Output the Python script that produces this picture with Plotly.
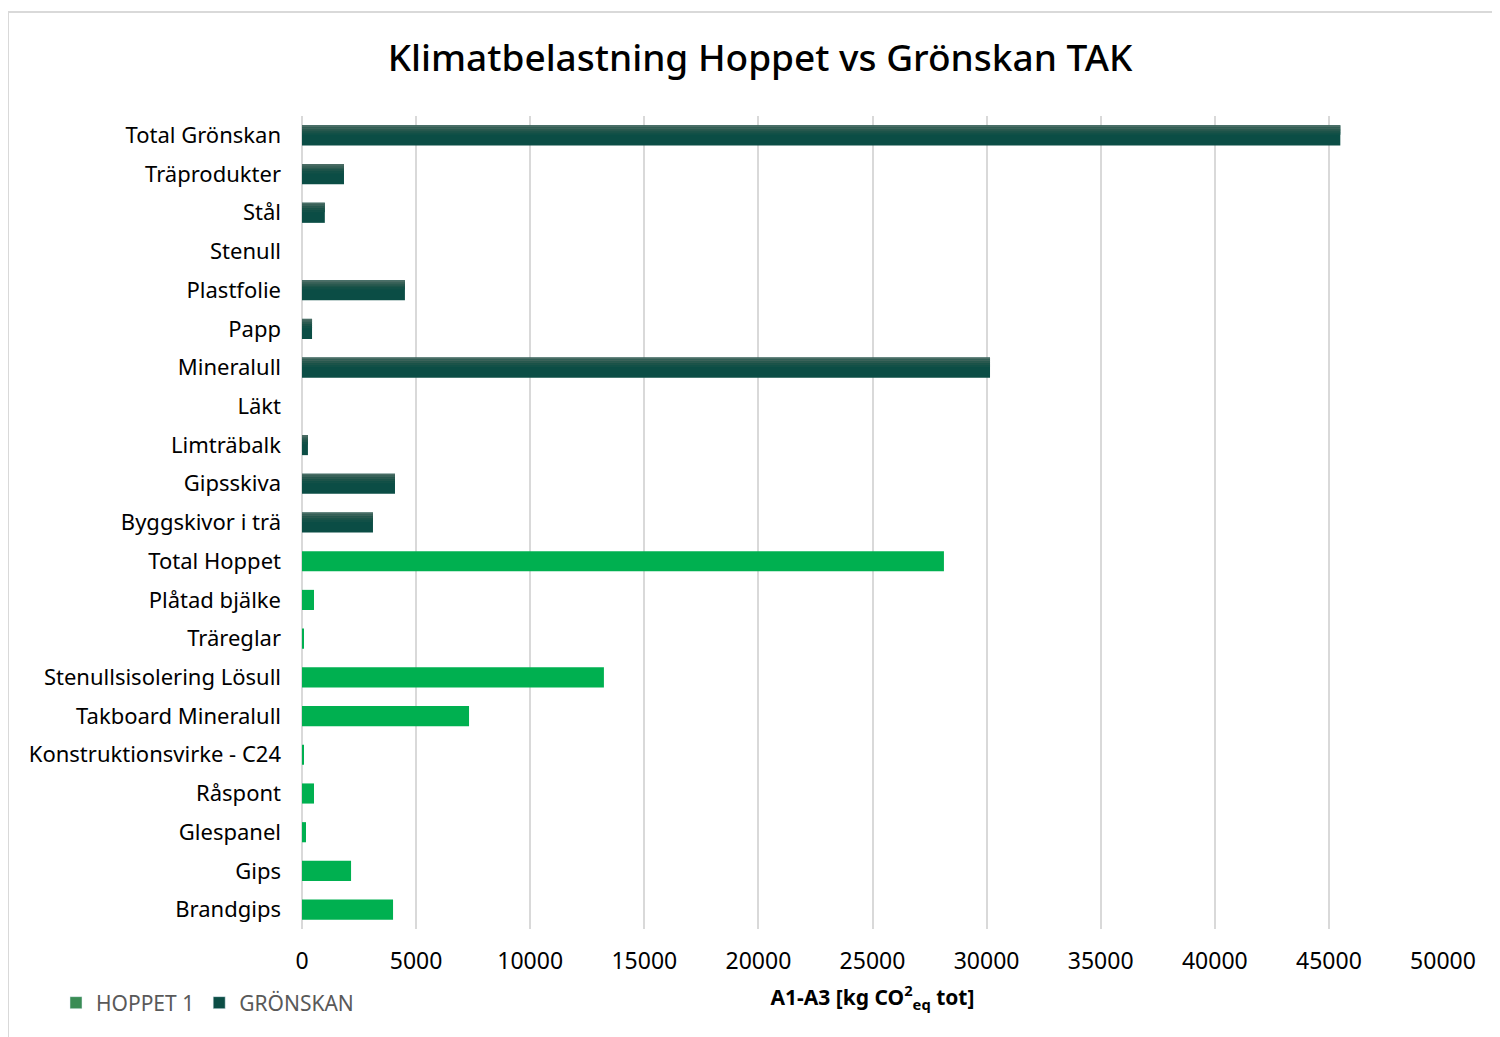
import plotly.graph_objects as go

categories = [
    "Total Grönskan", "Träprodukter", "Stål", "Stenull", "Plastfolie", "Papp",
    "Mineralull", "Läkt", "Limträbalk", "Gipsskiva", "Byggskivor i trä",
    "Total Hoppet", "Plåtad bjälke", "Träreglar", "Stenullsisolering Lösull",
    "Takboard Mineralull", "Konstruktionsvirke - C24", "Råspont", "Glespanel",
    "Gips", "Brandgips",
]
hoppet = [None, None, None, None, None, None, None, None, None, None, None,
          28130, 525, 50, 13230, 7320, 60, 525, 175, 2150, 3990]
gronskan = [45500, 1840, 1000, 0, 4510, 440, 30150, 0, 260, 4075, 3110,
            None, None, None, None, None, None, None, None, None, None]
x_ticks = [0, 5000, 10000, 15000, 20000, 25000, 30000, 35000, 40000, 45000, 50000]

OFF = 8  # page body margin
BW = 0.52
fig = go.Figure()
fig.add_trace(go.Bar(y=categories, x=hoppet, orientation="h", name="HOPPET 1",
                     marker=dict(color="#00b050", line=dict(width=0)), width=BW,
                     showlegend=False, legendgroup="h"))
fig.add_trace(go.Bar(y=categories, x=gronskan, orientation="h", name="GRÖNSKAN",
                     marker=dict(color="#0b4d45", line=dict(width=0)), width=BW,
                     showlegend=False, legendgroup="g"))
# vertical gradient on the upper part of the GRÖNSKAN bars
grad_cols = ["#4a6c64", "#3a6259", "#2a594f", "#1c5349", "#125047"]
n = len(grad_cols)
sw = 0.24 / n
for i, c in enumerate(grad_cols):
    fig.add_trace(go.Bar(y=categories, x=gronskan, orientation="h",
                         marker=dict(color=c, line=dict(width=0)),
                         width=sw + 0.004, offset=-BW / 2 + i * sw,
                         showlegend=False, hoverinfo="skip", legendgroup="g"))
# legend entries
fig.add_trace(go.Bar(y=[None], x=[None], orientation="h", name="HOPPET 1",
                     marker=dict(color="#3a8c55"), legendgroup="h"))
fig.add_trace(go.Bar(y=[None], x=[None], orientation="h", name="GRÖNSKAN",
                     marker=dict(color="#0b4d45"), legendgroup="g"))

W, H = 1500 - OFF, 1037 - OFF
L, T = 302 - OFF, 116 - OFF
R = W - (1443 - OFF)
B = H - (929 - OFF)
pw = W - L - R
ph = H - T - B

def px(xs):
    return (xs - OFF - L) / pw

def py(ys):
    return (T + ph - (ys - OFF)) / ph

fig.update_layout(
    width=W, height=H,
    margin=dict(l=L, r=R, t=T, b=B),
    barmode="overlay",
    paper_bgcolor="white", plot_bgcolor="white",
    title=dict(text="Klimatbelastning Hoppet vs Grönskan TAK",
               font=dict(family="Noto Sans", size=37, color="black", weight=500),
               x=(760 - OFF) / W, xanchor="center", y=1 - (58 - OFF) / H, yanchor="middle"),
    xaxis=dict(range=[0, 50000], tickvals=x_ticks, ticktext=[str(v) for v in x_ticks],
               showgrid=True, gridcolor="#d9d9d9", gridwidth=2,
               zeroline=True, zerolinecolor="#d9d9d9", zerolinewidth=2,
               showline=False, ticks="", ticklabelstandoff=16,
               tickfont=dict(family="Noto Sans", size=23, color="black"),
               title=dict(text="<b>A1-A3 [kg CO<sup>2</sup><sub>eq</sub> tot]</b>",
                          font=dict(family="Noto Sans", size=21, color="black"),
                          standoff=15)),
    yaxis=dict(autorange="reversed", showgrid=False, ticks="", showline=False,
               tickfont=dict(family="Noto Sans", size=22, color="black"),
               ticklabelstandoff=20),
    legend=dict(orientation="h", x=px(56), xanchor="left",
                y=py(1003), yanchor="middle",
                font=dict(family="Noto Sans", size=21, color="#595959"),
                itemwidth=30, traceorder="normal"),
    shapes=[
        dict(type="line", xref="paper", yref="paper",
             x0=px(8), x1=px(1500), y0=py(12), y1=py(12),
             line=dict(color="#d9d9d9", width=2)),
        dict(type="line", xref="paper", yref="paper",
             x0=px(8), x1=px(8), y0=py(12), y1=py(1040),
             line=dict(color="#d9d9d9", width=2)),
    ],
)

fig.write_html("out.html")
